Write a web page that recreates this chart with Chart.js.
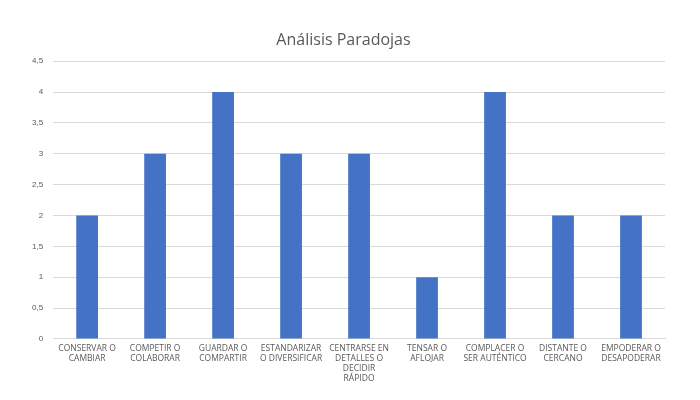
<!DOCTYPE html>
<html>
<head>
<meta charset="utf-8">
<script src="https://cdn.jsdelivr.net/npm/chart.js@4"></script>
<style>
  html, body { margin: 0; padding: 0; background: #fff; }
  #wrap { width: 700px; height: 400px; }
</style>
</head>
<body>
<div id="wrap"><canvas id="paradojasChart"></canvas></div>
<script>
var categories = [
    ['CONSERVAR O', 'CAMBIAR'],
    ['COMPETIR O', 'COLABORAR'],
    ['GUARDAR O', 'COMPARTIR'],
    ['ESTANDARIZAR', 'O DIVERSIFICAR'],
    ['CENTRARSE EN', 'DETALLES O', 'DECIDIR', 'RÁPIDO'],
    ['TENSAR O', 'AFLOJAR'],
    ['COMPLACER O', 'SER AUTÉNTICO'],
    ['DISTANTE O', 'CERCANO'],
    ['EMPODERAR O', 'DESAPODERAR']
];
var values = [2, 3, 4, 3, 3, 1, 4, 2, 2];
var chartTitle = 'Análisis Paradojas';

var ctx = document.getElementById('paradojasChart');
var myChart = new Chart(ctx, {
    type: 'bar',
    data: {
        labels: categories,
        datasets: [
            {data: values, backgroundColor: '#4472C4', categoryPercentage: 1, barPercentage: 0.32}
        ]
    },
    options: {
        responsive: true,
        maintainAspectRatio: false,
        animation: false,
        layout: {padding: {left: 22, right: 35, top: 22, bottom: 12}},
        plugins: {
            legend: {display: false},
            tooltip: {enabled: false},
            title: {
                display: true,
                text: chartTitle,
                color: '#595959',
                font: {family: 'Open Sans', size: 16, weight: 'normal'},
                padding: {top: 9, bottom: 11}
            }
        },
        scales: {
            x: {
                grid: {display: false, drawTicks: false},
                border: {color: '#d9d9d9'},
                ticks: {
                    color: '#595959',
                    font: {family: 'Open Sans', size: 8.5, lineHeight: 1.15},
                    maxRotation: 0,
                    autoSkip: false,
                    padding: 5
                }
            },
            y: {
                min: 0,
                max: 4.5,
                grid: {color: '#d9d9d9', drawTicks: false},
                border: {display: false},
                ticks: {
                    stepSize: 0.5,
                    color: '#595959',
                    font: {family: 'Liberation Sans', size: 8},
                    padding: 10,
                    callback: function (v) { return String(v).replace('.', ','); }
                }
            }
        }
    }
});
</script>
</body>
</html>
